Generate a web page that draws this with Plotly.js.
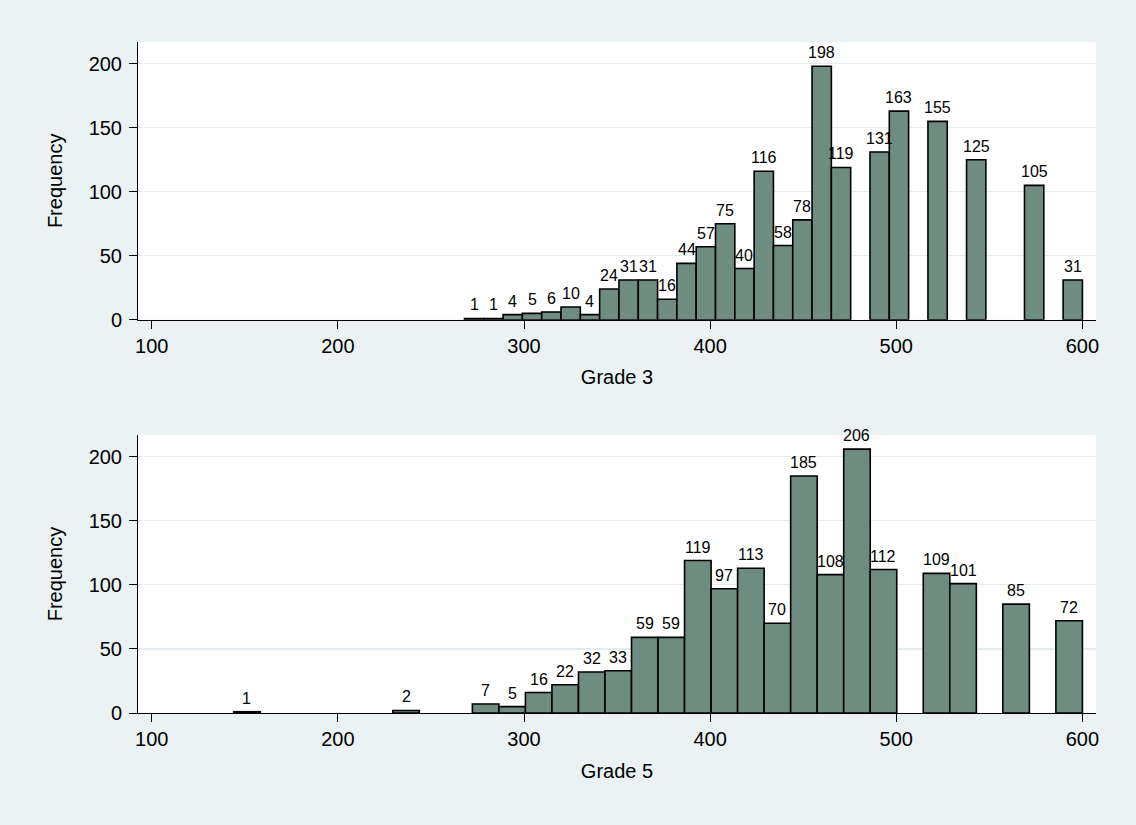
<!DOCTYPE html>
<html>
<head>
<meta charset="utf-8">
<script src="https://cdn.plot.ly/plotly-3.0.1.min.js"></script>
<style>html,body{margin:0;padding:0;background:#EAF2F3;}#chart{width:1136px;height:825px;}</style>
</head>
<body>
<div id="chart"></div>
<script>
// Grade 3 histogram: 32 bins starting at 268, width 10.375
const grade3BinStart = 268;
const grade3BinWidth = 10.375;
const grade3Counts = [1,1,4,5,6,10,4,24,31,31,16,44,57,75,40,116,58,78,198,119,0,131,163,0,155,0,125,0,0,105,0,31];

// Grade 5 histogram: 32 bins starting at 144, width 14.25
const grade5BinStart = 144;
const grade5BinWidth = 14.25;
const grade5Counts = [1,0,0,0,0,0,2,0,0,7,5,16,22,32,33,59,59,119,97,113,70,185,108,206,112,0,109,101,0,85,0,72];

const xTicks = [100,200,300,400,500,600];
const yTicks = [0,50,100,150,200];
const xTitles = ["Grade 3","Grade 5"];
const yTitle = "Frequency";

const FONT = "Liberation Sans, Arial, sans-serif";
const BAR_COLOR = "#6F8C80";

function centers(start, width, n){
  const out = [];
  for (let i = 0; i < n; i++) out.push(start + width * (i + 0.5));
  return out;
}

function barTrace(start, width, counts, xa, ya){
  return {
    type: "bar",
    x: centers(start, width, counts.length),
    y: counts.map(c => c > 0 ? c : null),
    width: width,
    xaxis: xa, yaxis: ya,
    marker: {color: BAR_COLOR, line: {color: "#000000", width: 1.6}},
    cliponaxis: false,
    hoverinfo: "x+y",
    showlegend: false
  };
}

function labels(start, width, counts, xa, ya){
  const xs = centers(start, width, counts.length);
  const out = [];
  counts.forEach((c, i) => {
    if (c > 0) out.push({
      xref: xa, yref: ya, x: xs[i], y: c,
      text: String(c), showarrow: false,
      xanchor: "center", yanchor: "bottom", yshift: 3,
      font: {family: FONT, size: 16, color: "#000"}
    });
  });
  return out;
}

const data = [
  barTrace(grade3BinStart, grade3BinWidth, grade3Counts, "x", "y"),
  barTrace(grade5BinStart, grade5BinWidth, grade5Counts, "x2", "y2")
];

function xAxis(title, anchor){
  return {
    anchor: anchor,
    range: [92.6, 607.3],
    tickvals: xTicks,
    ticks: "outside", ticklen: 8, tickwidth: 1, tickcolor: "#000",
    showline: true, linecolor: "#000", linewidth: 1,
    showgrid: false, zeroline: false,
    tickfont: {family: FONT, size: 20, color: "#000"},
    title: {text: title, font: {family: FONT, size: 20, color: "#000"}, standoff: 14}
  };
}
function yAxis(domain, anchor){
  return {
    anchor: anchor,
    domain: domain,
    range: [0, 217],
    tickvals: yTicks,
    ticks: "outside", ticklen: 8, tickwidth: 1, tickcolor: "#000",
    ticklabelstandoff: 3,
    showline: true, linecolor: "#000", linewidth: 1,
    showgrid: true, gridcolor: "#E4ECEF", gridwidth: 1.2,
    zeroline: false,
    tickfont: {family: FONT, size: 20, color: "#000"},
    title: {text: yTitle, font: {family: FONT, size: 20, color: "#000"}, standoff: 20}
  };
}

const layout = {
  width: 1136, height: 825,
  margin: {l: 138, r: 40, t: 42, b: 112},
  paper_bgcolor: "#EAF2F3",
  plot_bgcolor: "#FFFFFF",
  font: {family: FONT, color: "#000"},
  showlegend: false,
  bargap: 0,
  xaxis: xAxis(xTitles[0], "y"),
  yaxis: yAxis([0.5861, 1], "x"),
  xaxis2: xAxis(xTitles[1], "y2"),
  yaxis2: yAxis([0, 0.4143], "x2"),
  annotations: labels(grade3BinStart, grade3BinWidth, grade3Counts, "x", "y")
    .concat(labels(grade5BinStart, grade5BinWidth, grade5Counts, "x2", "y2"))
};

Plotly.newPlot("chart", data, layout, {displayModeBar: false, staticPlot: true});
</script>
</body>
</html>
